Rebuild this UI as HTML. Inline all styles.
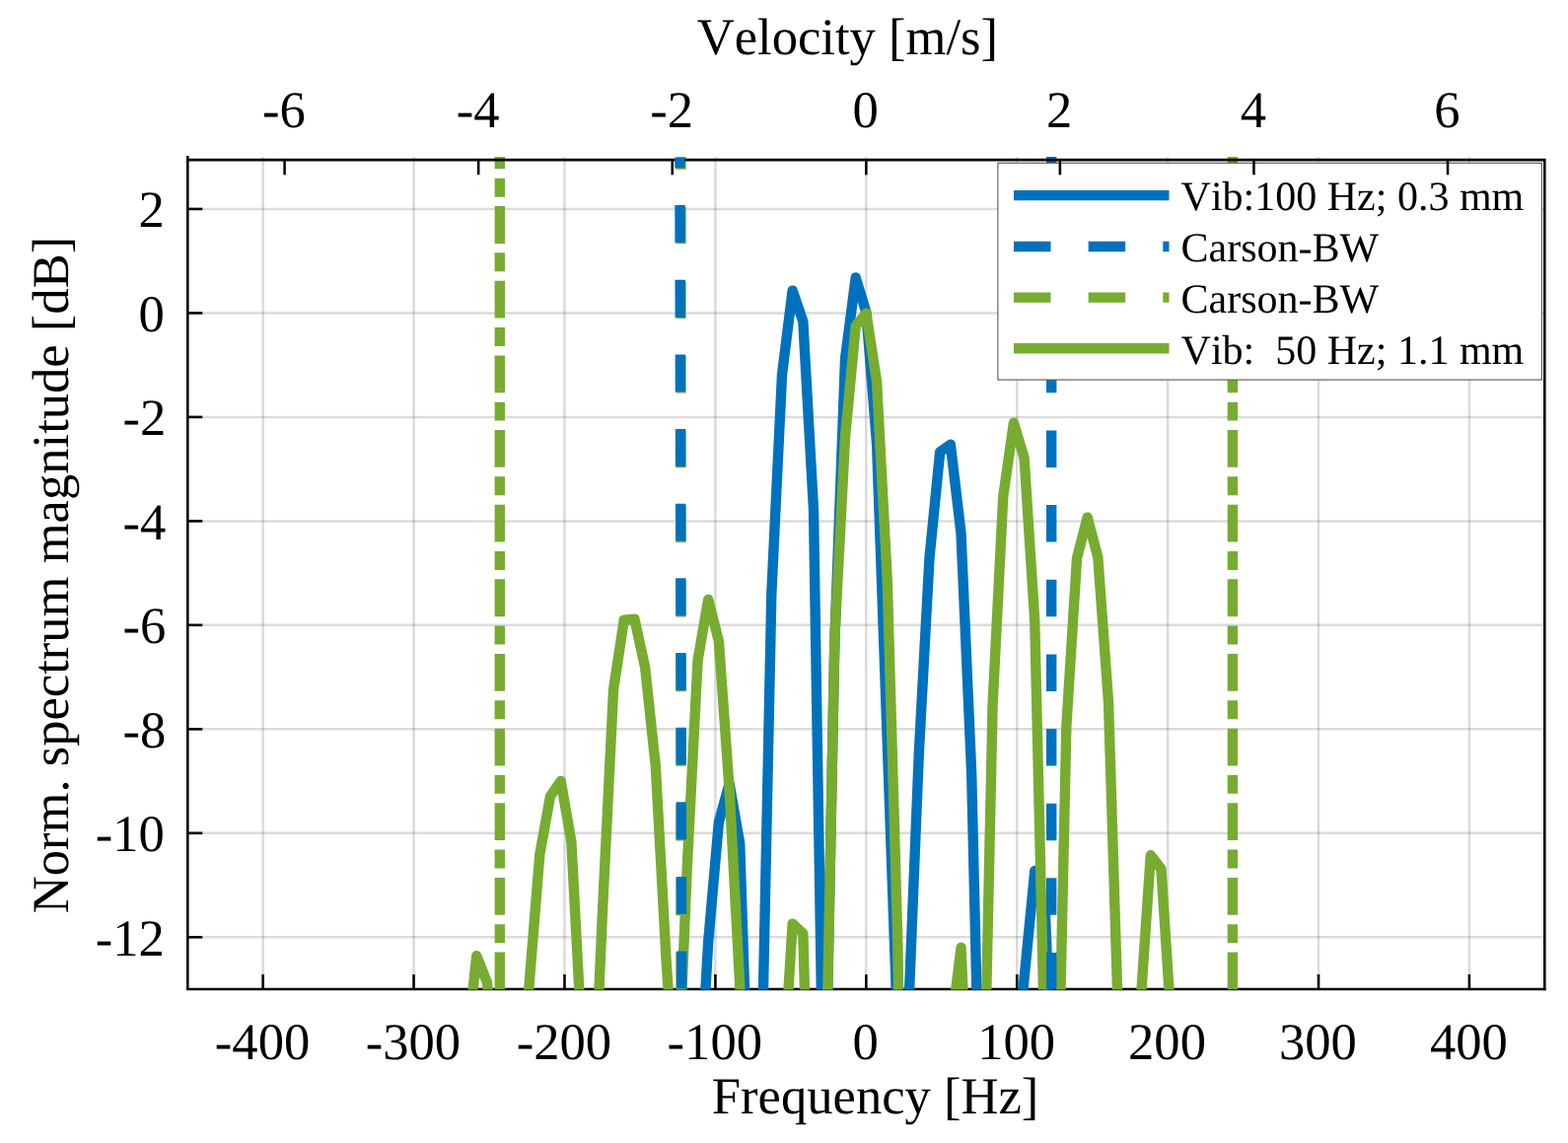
<!DOCTYPE html>
<html lang="en"><head><meta charset="utf-8"><title>Normalized spectrum magnitude</title>
<style>html,body{margin:0;padding:0;background:#fff}body{width:1590px;height:1159px;overflow:hidden}svg{display:block}text{font-family:"Liberation Serif",serif;fill:#000;font-kerning:none;text-rendering:geometricPrecision}.t{font-size:52.6px}.l{font-size:42px;white-space:pre}</style></head><body>
<svg width="1590" height="1159" viewBox="0 0 1590 1159">
<rect width="1590" height="1159" fill="#fff"/>
<defs><clipPath id="c"><rect x="190.3" y="159.1" width="1376.0" height="844.30"/></clipPath></defs>
<g stroke="#262626" stroke-opacity="0.165" stroke-width="2.5" fill="none">
<line x1="266.66" y1="159.2" x2="266.66" y2="1003.0"/>
<line x1="419.57" y1="159.2" x2="419.57" y2="1003.0"/>
<line x1="572.48" y1="159.2" x2="572.48" y2="1003.0"/>
<line x1="725.39" y1="159.2" x2="725.39" y2="1003.0"/>
<line x1="878.30" y1="159.2" x2="878.30" y2="1003.0"/>
<line x1="1031.21" y1="159.2" x2="1031.21" y2="1003.0"/>
<line x1="1184.12" y1="159.2" x2="1184.12" y2="1003.0"/>
<line x1="1337.03" y1="159.2" x2="1337.03" y2="1003.0"/>
<line x1="1489.94" y1="159.2" x2="1489.94" y2="1003.0"/>
<line x1="190.3" y1="950.30" x2="1566.3" y2="950.30"/>
<line x1="190.3" y1="844.82" x2="1566.3" y2="844.82"/>
<line x1="190.3" y1="739.34" x2="1566.3" y2="739.34"/>
<line x1="190.3" y1="633.86" x2="1566.3" y2="633.86"/>
<line x1="190.3" y1="528.38" x2="1566.3" y2="528.38"/>
<line x1="190.3" y1="422.90" x2="1566.3" y2="422.90"/>
<line x1="190.3" y1="317.42" x2="1566.3" y2="317.42"/>
<line x1="190.3" y1="211.94" x2="1566.3" y2="211.94"/>
</g>
<g stroke="#000000" stroke-width="2.55" fill="none">
<path d="M190.3,157.90 V1003.0 H1567.6" stroke-linejoin="miter"/>
<line x1="266.66" y1="1003.0" x2="266.66" y2="988.0"/>
<line x1="419.57" y1="1003.0" x2="419.57" y2="988.0"/>
<line x1="572.48" y1="1003.0" x2="572.48" y2="988.0"/>
<line x1="725.39" y1="1003.0" x2="725.39" y2="988.0"/>
<line x1="878.30" y1="1003.0" x2="878.30" y2="988.0"/>
<line x1="1031.21" y1="1003.0" x2="1031.21" y2="988.0"/>
<line x1="1184.12" y1="1003.0" x2="1184.12" y2="988.0"/>
<line x1="1337.03" y1="1003.0" x2="1337.03" y2="988.0"/>
<line x1="1489.94" y1="1003.0" x2="1489.94" y2="988.0"/>
<line x1="190.3" y1="950.30" x2="205.3" y2="950.30"/>
<line x1="190.3" y1="844.82" x2="205.3" y2="844.82"/>
<line x1="190.3" y1="739.34" x2="205.3" y2="739.34"/>
<line x1="190.3" y1="633.86" x2="205.3" y2="633.86"/>
<line x1="190.3" y1="528.38" x2="205.3" y2="528.38"/>
<line x1="190.3" y1="422.90" x2="205.3" y2="422.90"/>
<line x1="190.3" y1="317.42" x2="205.3" y2="317.42"/>
<line x1="190.3" y1="211.94" x2="205.3" y2="211.94"/>
</g>
<g clip-path="url(#c)" fill="none" stroke-linejoin="round" stroke-linecap="butt">
<polyline stroke="#0072BD" stroke-width="10.4" points="696.84,1300.0 707.52,1141.0 718.20,955.0 728.88,833.6 739.56,794.5 750.24,855.3 760.92,1183.0 771.60,1120.0 782.28,603.0 792.96,380.4 803.64,294.7 814.32,326.0 825.00,516.7 835.68,1180.0 846.36,650.0 857.04,363.7 867.72,281.4 878.40,317.0 889.08,450.0 899.76,752.0 910.44,1054.0 921.12,1028.0 931.80,764.0 942.48,565.7 953.16,458.2 963.84,450.7 974.52,540.8 985.20,785.0 995.88,1242.0 1006.56,1500.0 1017.24,1500.0 1027.92,1100.0 1038.60,992.0 1049.28,883.0 1059.96,927.0 1070.64,1190.0 1081.32,1400.0"/>
<polyline stroke="#77AC30" stroke-width="10.4" points="461.88,1300.0 472.56,1069.0 483.24,969.2 493.92,996.0 504.60,1146.0 515.28,1300.0 525.96,1080.0 536.64,998.0 547.32,866.5 558.00,807.4 568.68,791.9 579.36,853.3 590.04,1055.0 600.72,1155.0 611.40,915.0 622.08,699.3 632.76,628.6 643.44,627.8 654.12,676.7 664.80,777.0 675.48,972.0 686.16,1130.0 696.84,878.0 707.52,669.9 718.20,607.9 728.88,650.2 739.56,800.0 750.24,1000.0 760.92,1200.0 771.60,1400.0 782.28,1400.0 792.96,1109.0 803.64,936.7 814.32,946.5 825.00,1325.0 835.68,1191.0 846.36,647.5 857.04,442.7 867.72,330.5 878.40,317.6 889.08,387.2 899.76,589.0 910.44,960.0 921.12,1730.0 931.80,1800.0 942.48,1800.0 953.16,1500.0 963.84,1047.0 974.52,960.8 985.20,1201.0 995.88,1208.0 1006.56,715.0 1017.24,503.5 1027.92,428.7 1038.60,464.2 1049.28,630.4 1059.96,1090.0 1070.64,1228.0 1081.32,737.0 1092.00,566.1 1102.68,524.6 1113.36,565.4 1124.04,712.0 1134.72,1060.0 1145.40,1300.0 1156.08,1025.0 1166.76,867.3 1177.44,881.0 1188.12,1045.0 1198.80,1300.0"/>
<line x1="506.80" y1="57.80" x2="506.80" y2="1100" stroke="#77AC30" stroke-width="10.4" stroke-dasharray="37.8 9.45 18.95 9.45"/>
<line x1="1249.90" y1="57.80" x2="1249.90" y2="1100" stroke="#77AC30" stroke-width="10.4" stroke-dasharray="37.8 9.45 18.95 9.45"/>
<line x1="690.5" y1="58.20" x2="690.5" y2="1100" stroke="#77AC30" stroke-width="10.4" stroke-dasharray="37.8 37.85"/>
<line x1="1066.2" y1="58.20" x2="1066.2" y2="1100" stroke="#0072BD" stroke-width="10.4" stroke-dasharray="37.5 38.15"/>
</g>
<rect x="1011.9" y="165.3" width="551.50" height="219.8" fill="#fff" stroke="#555" stroke-width="1.1"/>
<g fill="none" stroke-width="10.4">
<line x1="1028.0" y1="198.15" x2="1185.5" y2="198.15" stroke="#0072BD"/>
<line x1="1028.0" y1="249.95" x2="1185.5" y2="249.95" stroke="#0072BD" stroke-dasharray="37.5 38.15"/>
<line x1="1028.0" y1="301.65" x2="1185.5" y2="301.65" stroke="#77AC30" stroke-dasharray="37.5 38.15"/>
<line x1="1028.0" y1="353.3" x2="1185.5" y2="353.3" stroke="#77AC30"/>
</g>
<text class="l" xml:space="preserve" x="1197.6" y="213.3">Vib:100 Hz; 0.3 mm</text>
<text class="l" xml:space="preserve" x="1197.6" y="265.1">Carson-BW</text>
<text class="l" xml:space="preserve" x="1197.6" y="316.9">Carson-BW</text>
<text class="l" xml:space="preserve" x="1197.6" y="368.6">Vib:  50 Hz; 1.1 mm</text>
<g stroke="#000000" stroke-width="2.55" fill="none">
<path d="M189.0,162.1 H1566.3 V1004.3" stroke-linejoin="miter"/>
<line x1="288.59" y1="162.1" x2="288.59" y2="177.30"/>
<line x1="485.16" y1="162.1" x2="485.16" y2="177.30"/>
<line x1="681.73" y1="162.1" x2="681.73" y2="177.30"/>
<line x1="878.30" y1="162.1" x2="878.30" y2="177.30"/>
<line x1="1074.87" y1="162.1" x2="1074.87" y2="177.30"/>
<line x1="1271.44" y1="162.1" x2="1271.44" y2="177.30"/>
<line x1="1468.01" y1="162.1" x2="1468.01" y2="177.30"/>
</g>
<defs><clipPath id="c2"><rect x="190.3" y="159.8" width="1376.0" height="843.60"/></clipPath></defs>
<g clip-path="url(#c2)"><line x1="689.18" y1="56.80" x2="691.41" y2="1100" stroke="#0072BD" stroke-width="10.4" stroke-dasharray="37.9 37.75" fill="none"/></g>
<text class="t" x="287.99" y="129.2" text-anchor="middle">-6</text>
<text class="t" x="484.56" y="129.2" text-anchor="middle">-4</text>
<text class="t" x="681.13" y="129.2" text-anchor="middle">-2</text>
<text class="t" x="877.70" y="129.2" text-anchor="middle">0</text>
<text class="t" x="1074.27" y="129.2" text-anchor="middle">2</text>
<text class="t" x="1270.84" y="129.2" text-anchor="middle">4</text>
<text class="t" x="1467.41" y="129.2" text-anchor="middle">6</text>
<text class="t" x="266.06" y="1073.8" text-anchor="middle">-400</text>
<text class="t" x="418.97" y="1073.8" text-anchor="middle">-300</text>
<text class="t" x="571.88" y="1073.8" text-anchor="middle">-200</text>
<text class="t" x="724.79" y="1073.8" text-anchor="middle">-100</text>
<text class="t" x="877.70" y="1073.8" text-anchor="middle">0</text>
<text class="t" x="1030.61" y="1073.8" text-anchor="middle">100</text>
<text class="t" x="1183.52" y="1073.8" text-anchor="middle">200</text>
<text class="t" x="1336.43" y="1073.8" text-anchor="middle">300</text>
<text class="t" x="1489.34" y="1073.8" text-anchor="middle">400</text>
<text class="t" x="166.9" y="968.60" text-anchor="end">-12</text>
<text class="t" x="166.9" y="863.12" text-anchor="end">-10</text>
<text class="t" x="168.4" y="757.64" text-anchor="end">-8</text>
<text class="t" x="168.4" y="652.16" text-anchor="end">-6</text>
<text class="t" x="168.4" y="546.68" text-anchor="end">-4</text>
<text class="t" x="168.4" y="441.20" text-anchor="end">-2</text>
<text class="t" x="166.9" y="335.72" text-anchor="end">0</text>
<text class="t" x="166.9" y="230.24" text-anchor="end">2</text>
<text class="t" x="859.4" y="55.2" text-anchor="middle">Velocity [m/s]</text>
<text class="t" x="887.6" y="1129" text-anchor="middle">Frequency [Hz]</text>
<text class="t" transform="translate(68.8,583.0) rotate(-90)" text-anchor="middle">Norm. spectrum magnitude [dB]</text>
</svg></body></html>
